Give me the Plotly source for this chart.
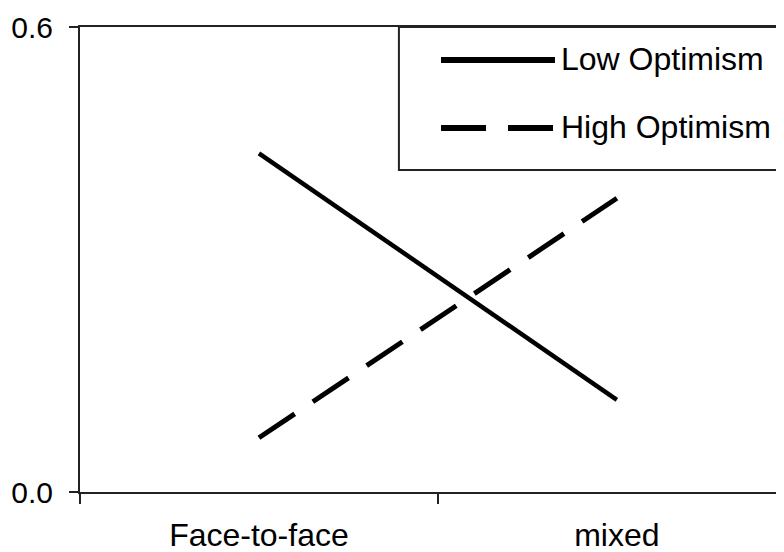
import plotly.graph_objects as go

categories = ["Face-to-face", "mixed"]
low_optimism = [0.437, 0.119]
high_optimism = [0.070, 0.379]
y_ticks = [0.0, 0.6]
legend_labels = ["Low Optimism", "High Optimism"]

FONT = "Liberation Sans, Arial, sans-serif"
AX = "#222222"

fig = go.Figure()
fig.add_trace(go.Scatter(x=categories, y=low_optimism, mode="lines",
                         line=dict(color="black", width=4.5), name=legend_labels[0],
                         showlegend=False))
fig.add_trace(go.Scatter(x=categories, y=high_optimism, mode="lines",
                         line=dict(color="black", width=5, dash="43px,21.8px"),
                         name=legend_labels[1], showlegend=False))

# manual legend (box, samples, labels) in paper coordinates
fig.add_shape(type="rect", xref="paper", yref="paper", x0=0.453, x1=1.05, y0=0.6925, y1=1.0,
              line=dict(color=AX, width=2), fillcolor="white", layer="above")
fig.add_shape(type="line", xref="paper", yref="paper", x0=0.5128, x1=0.6747, y0=0.929, y1=0.929,
              line=dict(color="black", width=6))
fig.add_shape(type="line", xref="paper", yref="paper", x0=0.5128, x1=0.6747, y0=0.7828, y1=0.7828,
              line=dict(color="black", width=6, dash="45px,22px"))
for lbl, yy in zip(legend_labels, [0.931, 0.7848]):
    fig.add_annotation(text=lbl, xref="paper", yref="paper", x=0.6805, y=yy,
                       xanchor="left", yanchor="middle", showarrow=False,
                       font=dict(family=FONT, size=32, color="black"))

fig.update_layout(
    width=784, height=552,
    margin=dict(l=72, r=8, t=19, b=68),
    plot_bgcolor="white", paper_bgcolor="white",
    font=dict(family=FONT, color="black"),
    showlegend=False,
)
fig.update_xaxes(type="category", range=[-0.5, 1.467], tickson="boundaries",
                 ticks="outside", ticklen=10, tickwidth=2, tickcolor=AX,
                 showline=True, linecolor=AX, linewidth=2, mirror=True,
                 showgrid=False, zeroline=False, ticklabelstandoff=14, automargin=False,
                 tickfont=dict(family=FONT, size=32, color="black"))
fig.update_yaxes(range=[0, 0.6], tickvals=y_ticks, tickformat=".1f",
                 ticks="outside", ticklen=9, tickwidth=2, tickcolor=AX,
                 showline=True, linecolor=AX, linewidth=2, mirror=False,
                 showgrid=False, zeroline=False, ticklabelstandoff=10, automargin=False,
                 tickfont=dict(family=FONT, size=30, color="black"))

fig.write_html("out.html")
